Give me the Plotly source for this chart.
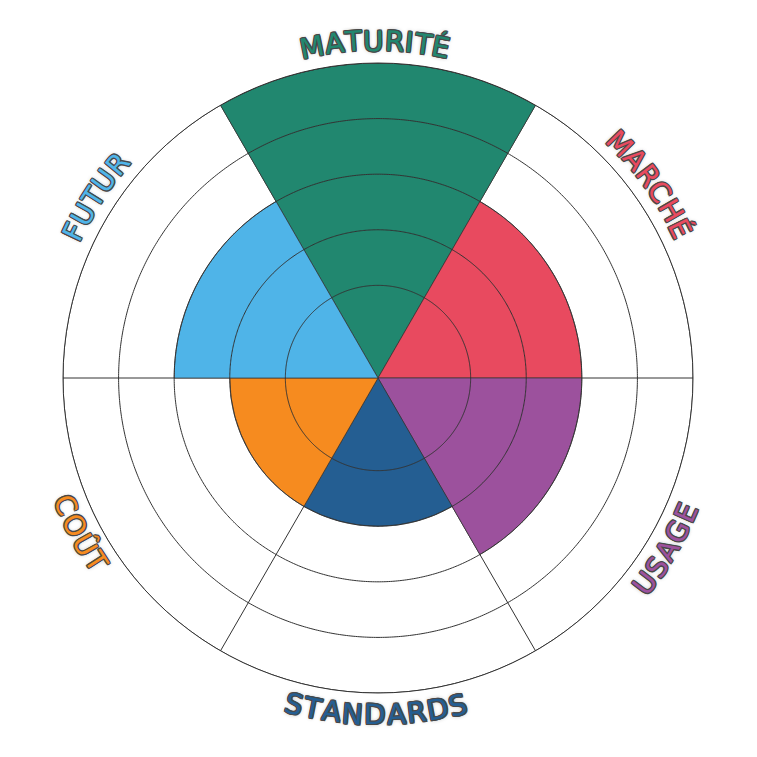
import math
import numpy as np
import plotly.graph_objects as go

# ---- data -------------------------------------------------------------
categories = ["MATURITÉ", "MARCHÉ", "USAGE", "STANDARDS", "COÛT", "FUTUR"]
values = [5, 3, 3, 2, 2, 3]
directions = [90, 30, 330, 270, 210, 150]   # sector centre (deg, CCW from east)
colors = ["#21876F", "#E84A5F", "#9C519D", "#245E92", "#F68B1F", "#4FB4E8"]
grid_levels = [1, 2, 3, 4, 5]

# ---- geometry / style -------------------------------------------------
PAGE_OFF = 8                     # default body margin of the html page
W = H = 757 - 2 * PAGE_OFF
M_L = M_T = 63 - PAGE_OFF
PLOT = 630
CX, CY = M_L + PLOT / 2, M_T + PLOT / 2
R_MIN, R_MAX = -2 / 3, 5
SECTOR = 60
LINE = "#333333"

FONT_SIZE = 28
LABEL_R = 337
TRACK = 1.1
# small angular nudges (deg) of each curved label, as placed in the original
LABEL_NUDGE = {"MATURITÉ": 0.5, "MARCHÉ": 5.5, "USAGE": -0.7,
               "STANDARDS": -0.3, "COÛT": -2.5, "FUTUR": -2.7}
SHADOW = ("-1px -1px 0 #484848, 1px -1px 0 #484848, -1px 1px 0 #484848, "
          "1px 1px 0 #484848, 0 1px 0 #484848, 0 -1px 0 #484848, "
          "1px 0 0 #484848, -1px 0 0 #484848, 0 0 4px #999")
WIDTHS = {"A": .684, "C": .698, "D": .770, "E": .632, "É": .632, "F": .575,
          "G": .775, "H": .752, "I": .295, "M": .863, "N": .748, "O": .787,
          "R": .695, "S": .635, "T": .611, "U": .732, "Û": .732}

fig = go.Figure()

fig.add_trace(go.Barpolar(
    r=[v - R_MIN for v in values],
    base=R_MIN,
    theta=directions,
    width=SECTOR,
    marker=dict(color=colors, line=dict(color=LINE, width=0.7)),
    hoverinfo="skip",
))

circle_theta = np.linspace(0, 360, 721)
for lvl in grid_levels:
    fig.add_trace(go.Scatterpolar(
        r=[lvl] * len(circle_theta), theta=circle_theta, mode="lines",
        line=dict(color=LINE, width=1), cliponaxis=False, hoverinfo="skip",
    ))

edges = sorted({(d - SECTOR / 2) % 360 for d in directions})

annotations = []
for cat, ang, col in zip(categories, directions, colors):
    upper = 0 < ang < 180
    centre = ang + LABEL_NUDGE.get(cat, 0)
    ws = [WIDTHS.get(ch, .7) * FONT_SIZE + TRACK for ch in cat]
    pos = -sum(ws) / 2
    for ch, w in zip(cat, ws):
        s = pos + w / 2
        pos += w
        d = math.degrees(s / LABEL_R)
        th = centre - d if upper else centre + d
        px = CX + LABEL_R * math.cos(math.radians(th))
        py = CY - LABEL_R * math.sin(math.radians(th))
        rot = (90 - th) if upper else (270 - th)
        rot = (rot + 180) % 360 - 180
        annotations.append(dict(
            x=(px - M_L) / PLOT, y=(M_T + PLOT - py) / PLOT,
            xref="paper", yref="paper", text=ch, showarrow=False,
            textangle=rot, xanchor="center", yanchor="middle",
            font=dict(family="DejaVu Sans", size=FONT_SIZE, color=col,
                      shadow=SHADOW),
        ))

fig.update_layout(
    width=W, height=H,
    margin=dict(l=M_L, r=W - M_L - PLOT, t=M_T, b=H - M_T - PLOT),
    paper_bgcolor="white", plot_bgcolor="white",
    showlegend=False,
    polar=dict(
        domain=dict(x=[0, 1], y=[0, 1]),
        bgcolor="white",
        radialaxis=dict(range=[R_MIN, R_MAX], showgrid=False, showticklabels=False,
                        ticks="", showline=False),
        angularaxis=dict(rotation=0, direction="counterclockwise",
                         tickmode="array", tickvals=edges, showticklabels=False,
                         ticks="", gridcolor=LINE, gridwidth=1,
                         showline=True, linecolor=LINE, linewidth=1),
    ),
    annotations=annotations,
)

fig.write_html("out.html")
